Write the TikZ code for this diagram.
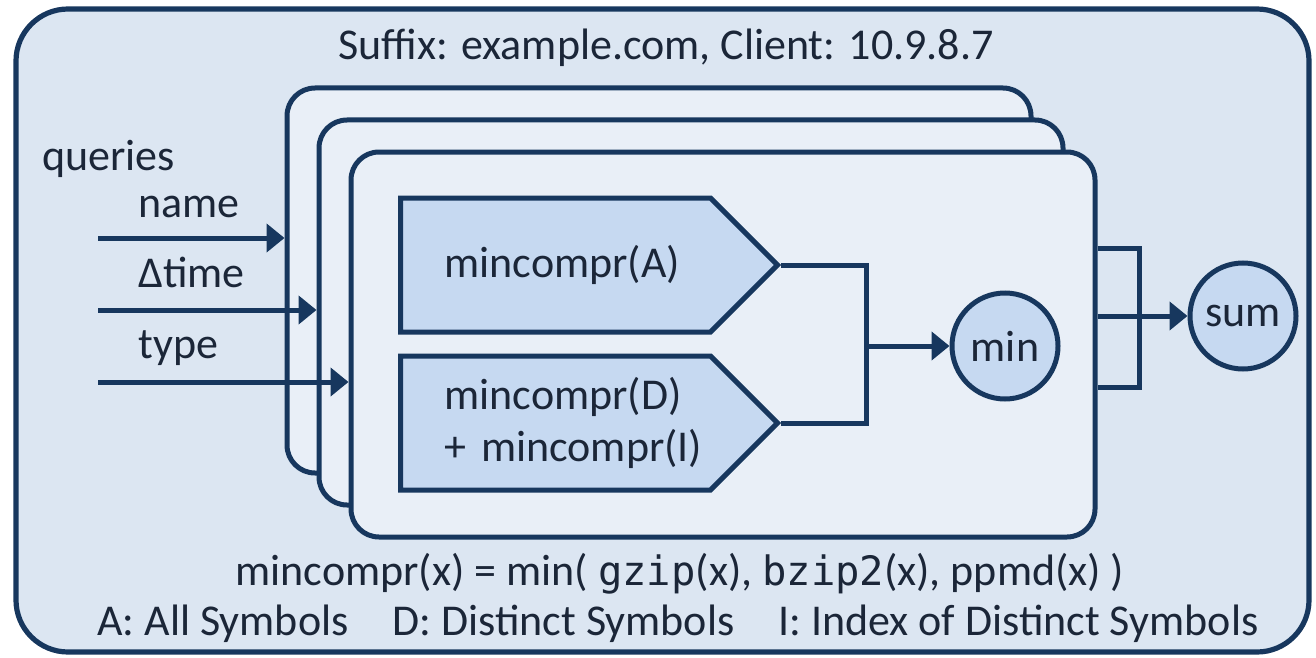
\documentclass[tikz,border=0pt]{standalone}
\usepackage{fontspec}
\setmainfont{Carlito}
\newfontfamily\codefont{DejaVu Sans Mono}[Scale=0.92]
\usepackage{tikz}
\usetikzlibrary{arrows.meta,positioning,shapes.symbols}
\definecolor{navy}{HTML}{17375E}
\definecolor{panelbg}{HTML}{DCE6F2}
\definecolor{cardbg}{HTML}{E9EFF7}
\definecolor{blockbg}{HTML}{C6D9F1}
\definecolor{ink}{HTML}{1B2638}
\tikzset{
  panel/.style = {rectangle, rounded corners=26pt, draw=navy, fill=panelbg, line width=2.6pt,
                  minimum width=646.5pt, minimum height=321.5pt},
  card/.style  = {rectangle, rounded corners=14pt, draw=navy, fill=cardbg, line width=2.5pt,
                  minimum width=372pt, minimum height=192.5pt},
  sig/.style   = {signal, signal to=east, signal pointer angle=90, draw=navy, fill=blockbg,
                  line width=2.5pt, minimum height=67pt, inner xsep=22pt, inner ysep=0pt,
                  text width=111pt, align=left, text=ink},
  op/.style    = {circle, draw=navy, fill=blockbg, line width=2.5pt, minimum size=53pt,
                  inner sep=0pt, text=ink},
  wire/.style  = {draw=navy, line width=2.5pt},
  fl/.style    = {wire, -{Triangle[length=9pt,width=14pt]}},
  lbl/.style   = {text=ink, inner sep=0pt},
}

\begin{document}
\begin{tikzpicture}[x=0.5pt, y=-0.5pt, font=\fontsize{22}{26}\selectfont]
\useasboundingbox (0,0) rectangle (1316,658);
% outer panel
\node[panel] (frame) at (662.5,330.5) {};
\node[lbl, anchor=base] (suffix) at (666,60) {Suffix: example.com, Client: 10.9.8.7};
% stacked cards
\node[card] (back) at (659,280.5) {};
\node[card] (mid) at ([shift={(32,32)}]back.center) {};
\node[card] (front) at ([shift={(32,32)}]mid.center) {};
% compressors
\node[sig, anchor=west] (pA) at (398,265) {mincompr(A)};
\node[sig, anchor=west] (pD) at (398,423) {\mbox{mincompr(D)}\\\mbox{+ mincompr(I)}};
\node[op] (min) at (1005,346) {min};
\node[op] (sum) at (1243,316) {sum};
% inputs
\node[lbl, anchor=base west] (queries) at (42,170) {queries};
\node[lbl, anchor=base west] (lname) at (138,217) {name};
\node[lbl, anchor=base west] (ltime) at (138,287) {Δtime};
\node[lbl, anchor=base west] (ltype) at (138,358) {type};
\coordinate (qname) at (98,238);
\coordinate (qtime) at (98,310);
\coordinate (qtype) at (98,382);
\draw[fl] (qname) -- (qname -| back.west);
\draw[fl] (qtime) -- (qtime -| mid.west);
\draw[fl] (qtype) -- (qtype -| front.west);
% joins
\coordinate (jmin) at (866,346);
\coordinate (jsum) at (1139,316);
\draw[wire] (pA.east) -| (jmin) |- (pD.east);
\draw[fl] (jmin) -- (min);
\draw[wire] (front.east |- 0,248) -| (jsum |- 0,387) -- (front.east |- 0,387);
\draw[fl] (front.east |- sum) -- (sum);
% notes
\node[lbl, anchor=base] (formula) at (680,585) {mincompr(x) = min( {\codefont gzip}(x), {\codefont bzip2}(x), ppmd(x) )};
\node[lbl, anchor=base] (legend) at (678,635) {A: All Symbols\hspace{17pt} D: Distinct Symbols\hspace{17pt} I: Index of Distinct Symbols};
\end{tikzpicture}
\end{document}
